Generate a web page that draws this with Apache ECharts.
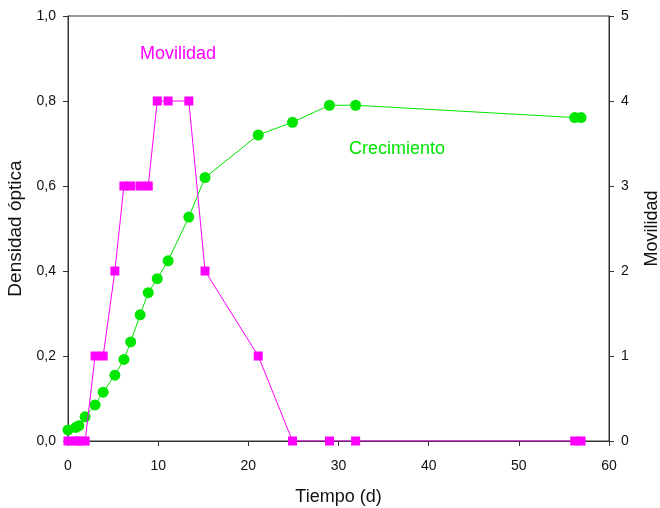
<!DOCTYPE html>
<html>
<head>
<meta charset="utf-8">
<script src="https://cdn.jsdelivr.net/npm/echarts@6/dist/echarts.min.js"></script>
<style>
  html, body { margin: 0; padding: 0; background: #fff; }
  #chart { width: 660px; height: 508px; }
</style>
</head>
<body>
<div id="chart"></div>
<script>
// Sampling days (d)
const days = [0, 0.85, 1.2, 1.9, 3.0, 3.9, 5.2, 6.2, 6.95, 8.0, 8.9, 9.9, 11.1, 13.4, 15.2, 21.1, 24.9, 29.0, 31.9, 56.2, 56.9];
// Optical density (left axis)
const crecimiento = [0.026, 0.032, 0.036, 0.057, 0.085, 0.115, 0.155, 0.192, 0.233, 0.297, 0.349, 0.382, 0.424, 0.527, 0.620, 0.720, 0.750, 0.790, 0.790, 0.761, 0.761];
// Motility score (right axis)
const movilidad = [0, 0, 0, 0, 1, 1, 2, 3, 3, 3, 3, 4, 4, 4, 2, 1, 0, 0, 0, 0, 0];

const leftTicks = [0, 0.2, 0.4, 0.6, 0.8, 1.0];
const rightTicks = [0, 1, 2, 3, 4, 5];
const xTicks = [0, 10, 20, 30, 40, 50, 60];

const FONT = 'Liberation Sans, Arial, Helvetica, sans-serif';
const GREEN = '#00e600';
const MAGENTA = '#ff00ff';

const pair = (xs, ys) => xs.map((x, i) => [x, ys[i]]);

const axisCommon = {
  axisLine: { show: true, lineStyle: { color: '#333', width: 1 } },
  axisTick: { show: true, inside: false, length: 5, lineStyle: { color: '#333' } },
  splitLine: { show: false },
  axisLabel: { color: '#111', fontSize: 14, fontFamily: FONT },
  nameTextStyle: { color: '#111', fontSize: 18, fontFamily: FONT }
};

const chart = echarts.init(document.getElementById('chart'), null, { renderer: 'canvas' });

chart.setOption({
  animation: false,
  backgroundColor: '#fff',
  grid: {
    left: 68, right: 51, top: 16, bottom: 67,
    show: true, borderColor: '#333', borderWidth: 1,
    containLabel: false, outerBoundsMode: 'none'
  },
  xAxis: Object.assign({}, axisCommon, {
    type: 'value', min: xTicks[0], max: xTicks[xTicks.length - 1], interval: 10,
    name: 'Tiempo (d)', nameLocation: 'middle', nameGap: 47,
    axisLabel: Object.assign({}, axisCommon.axisLabel, { margin: 18 })
  }),
  yAxis: [
    Object.assign({}, axisCommon, {
      type: 'value', min: leftTicks[0], max: leftTicks[leftTicks.length - 1], interval: 0.2,
      position: 'left',
      name: 'Densidad óptica', nameLocation: 'middle', nameGap: 39,
      nameTextStyle: Object.assign({}, axisCommon.nameTextStyle, { fontSize: 19 }),
      axisLabel: Object.assign({}, axisCommon.axisLabel, {
        margin: 12,
        formatter: v => v.toFixed(1).replace('.', ',')
      })
    }),
    Object.assign({}, axisCommon, {
      type: 'value', min: rightTicks[0], max: rightTicks[rightTicks.length - 1], interval: 1,
      position: 'right',
      name: 'Movilidad', nameLocation: 'middle', nameGap: 34, nameRotate: 90,
      axisLabel: Object.assign({}, axisCommon.axisLabel, { margin: 12 })
    })
  ],
  series: [
    {
      name: 'Crecimiento', type: 'line', yAxisIndex: 0,
      data: pair(days, crecimiento),
      symbol: 'circle', symbolSize: 11,
      lineStyle: { color: GREEN, width: 1 },
      itemStyle: { color: GREEN },
      z: 3
    },
    {
      name: 'Movilidad', type: 'line', yAxisIndex: 1,
      data: pair(days, movilidad),
      symbol: 'rect', symbolSize: 9,
      lineStyle: { color: MAGENTA, width: 1 },
      itemStyle: { color: MAGENTA },
      z: 4
    }
  ],
  graphic: [
    { type: 'text', left: 140, top: 45, style: { text: 'Movilidad', fill: MAGENTA, fontSize: 18, fontFamily: FONT } },
    { type: 'text', left: 349, top: 140, style: { text: 'Crecimiento', fill: GREEN, fontSize: 18, fontFamily: FONT } }
  ]
});
</script>
</body>
</html>
